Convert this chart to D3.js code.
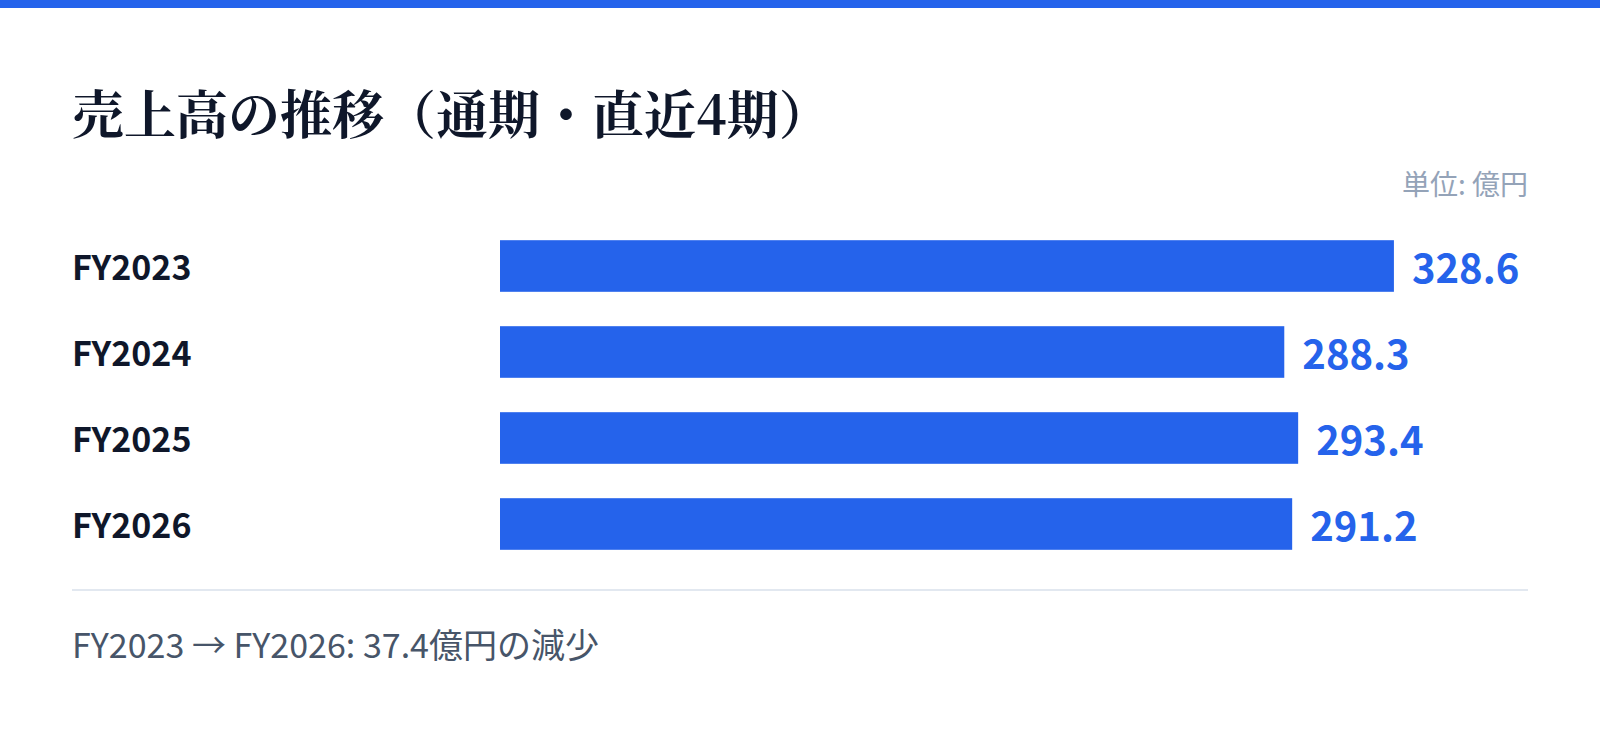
<!DOCTYPE html>
<html>
<head>
<meta charset="utf-8">
<script src="https://cdn.jsdelivr.net/npm/d3@7"></script>
<style>
  html, body { margin: 0; padding: 0; background: #fff; }
  svg { display: block; }
</style>
</head>
<body>
<div id="chart"></div>
<script>
// data
var periods = ['FY2023', 'FY2024', 'FY2025', 'FY2026'];
var sales = [328.6, 288.3, 293.4, 291.2];
var title_text = '売上高の推移（通期・直近4期）';
var unit_text = '単位: 億円';

var width = 1600;
var height = 733;
var pad = 72;
var accent = '#2563eb';
var text_dark = '#0f172a';
var sans = '"Noto Sans CJK JP", "Noto Sans", sans-serif';
var serif = '"Noto Serif CJK JP", "Noto Serif JP", serif';

var svg = d3.select('#chart')
  .append('svg')
  .attr('width', width)
  .attr('height', height);

svg.append('rect')
  .attr('width', width)
  .attr('height', height)
  .style('fill', 'white');

// top accent stripe
svg.append('rect')
  .attr('width', width)
  .attr('height', 8)
  .style('fill', accent);

svg.append('text')
  .attr('x', pad)
  .attr('y', 134)
  .text(title_text)
  .style('font-family', serif)
  .style('font-weight', 700)
  .style('font-size', '52px')
  .style('fill', text_dark);

svg.append('text')
  .attr('x', width - pad)
  .attr('y', 195)
  .attr('text-anchor', 'end')
  .text(unit_text)
  .style('font-family', sans)
  .style('font-size', '28px')
  .style('fill', '#94a3b8');

var label_w = 500;

var x = d3.scaleLinear()
  .domain([0, d3.max(sales) * 1.15])
  .range([label_w, width - pad]);

var y = d3.scaleBand()
  .domain(periods)
  .range([223, 567])
  .paddingInner(0.4)
  .paddingOuter(0.2);

var rows = svg.append('g')
  .selectAll('g')
  .data(periods)
  .enter()
  .append('g')
  .attr('transform', function(d){
    return 'translate(0,' + y(d) + ')';
  });

rows.append('rect')
  .attr('x', x(0))
  .attr('height', y.bandwidth())
  .attr('width', function(d, i){ return x(sales[i]) - x(0); })
  .style('fill', accent);

// period labels
rows.append('text')
  .attr('x', pad)
  .attr('y', y.bandwidth() / 2)
  .attr('dominant-baseline', 'central')
  .text(function(d){ return d; })
  .style('font-family', sans)
  .style('font-weight', 700)
  .style('font-size', '34px')
  .style('fill', text_dark);

// value labels
rows.append('text')
  .attr('x', function(d, i){ return x(sales[i]) + 18; })
  .attr('y', y.bandwidth() / 2)
  .attr('dominant-baseline', 'central')
  .text(function(d, i){ return sales[i].toFixed(1); })
  .style('font-family', sans)
  .style('font-weight', 700)
  .style('font-size', '40px')
  .style('fill', accent);

// divider
svg.append('line')
  .attr('x1', pad)
  .attr('x2', width - pad)
  .attr('y1', 590)
  .attr('y2', 590)
  .style('stroke', '#e2e8f0')
  .style('stroke-width', 2);

var diff = sales[0] - sales[sales.length - 1];
svg.append('text')
  .attr('x', pad)
  .attr('y', 658)
  .text(periods[0] + ' → ' + periods[periods.length - 1] + ': ' + diff.toFixed(1) + '億円の減少')
  .style('font-family', sans)
  .style('font-size', '34px')
  .style('fill', '#475569');
</script>
</body>
</html>
